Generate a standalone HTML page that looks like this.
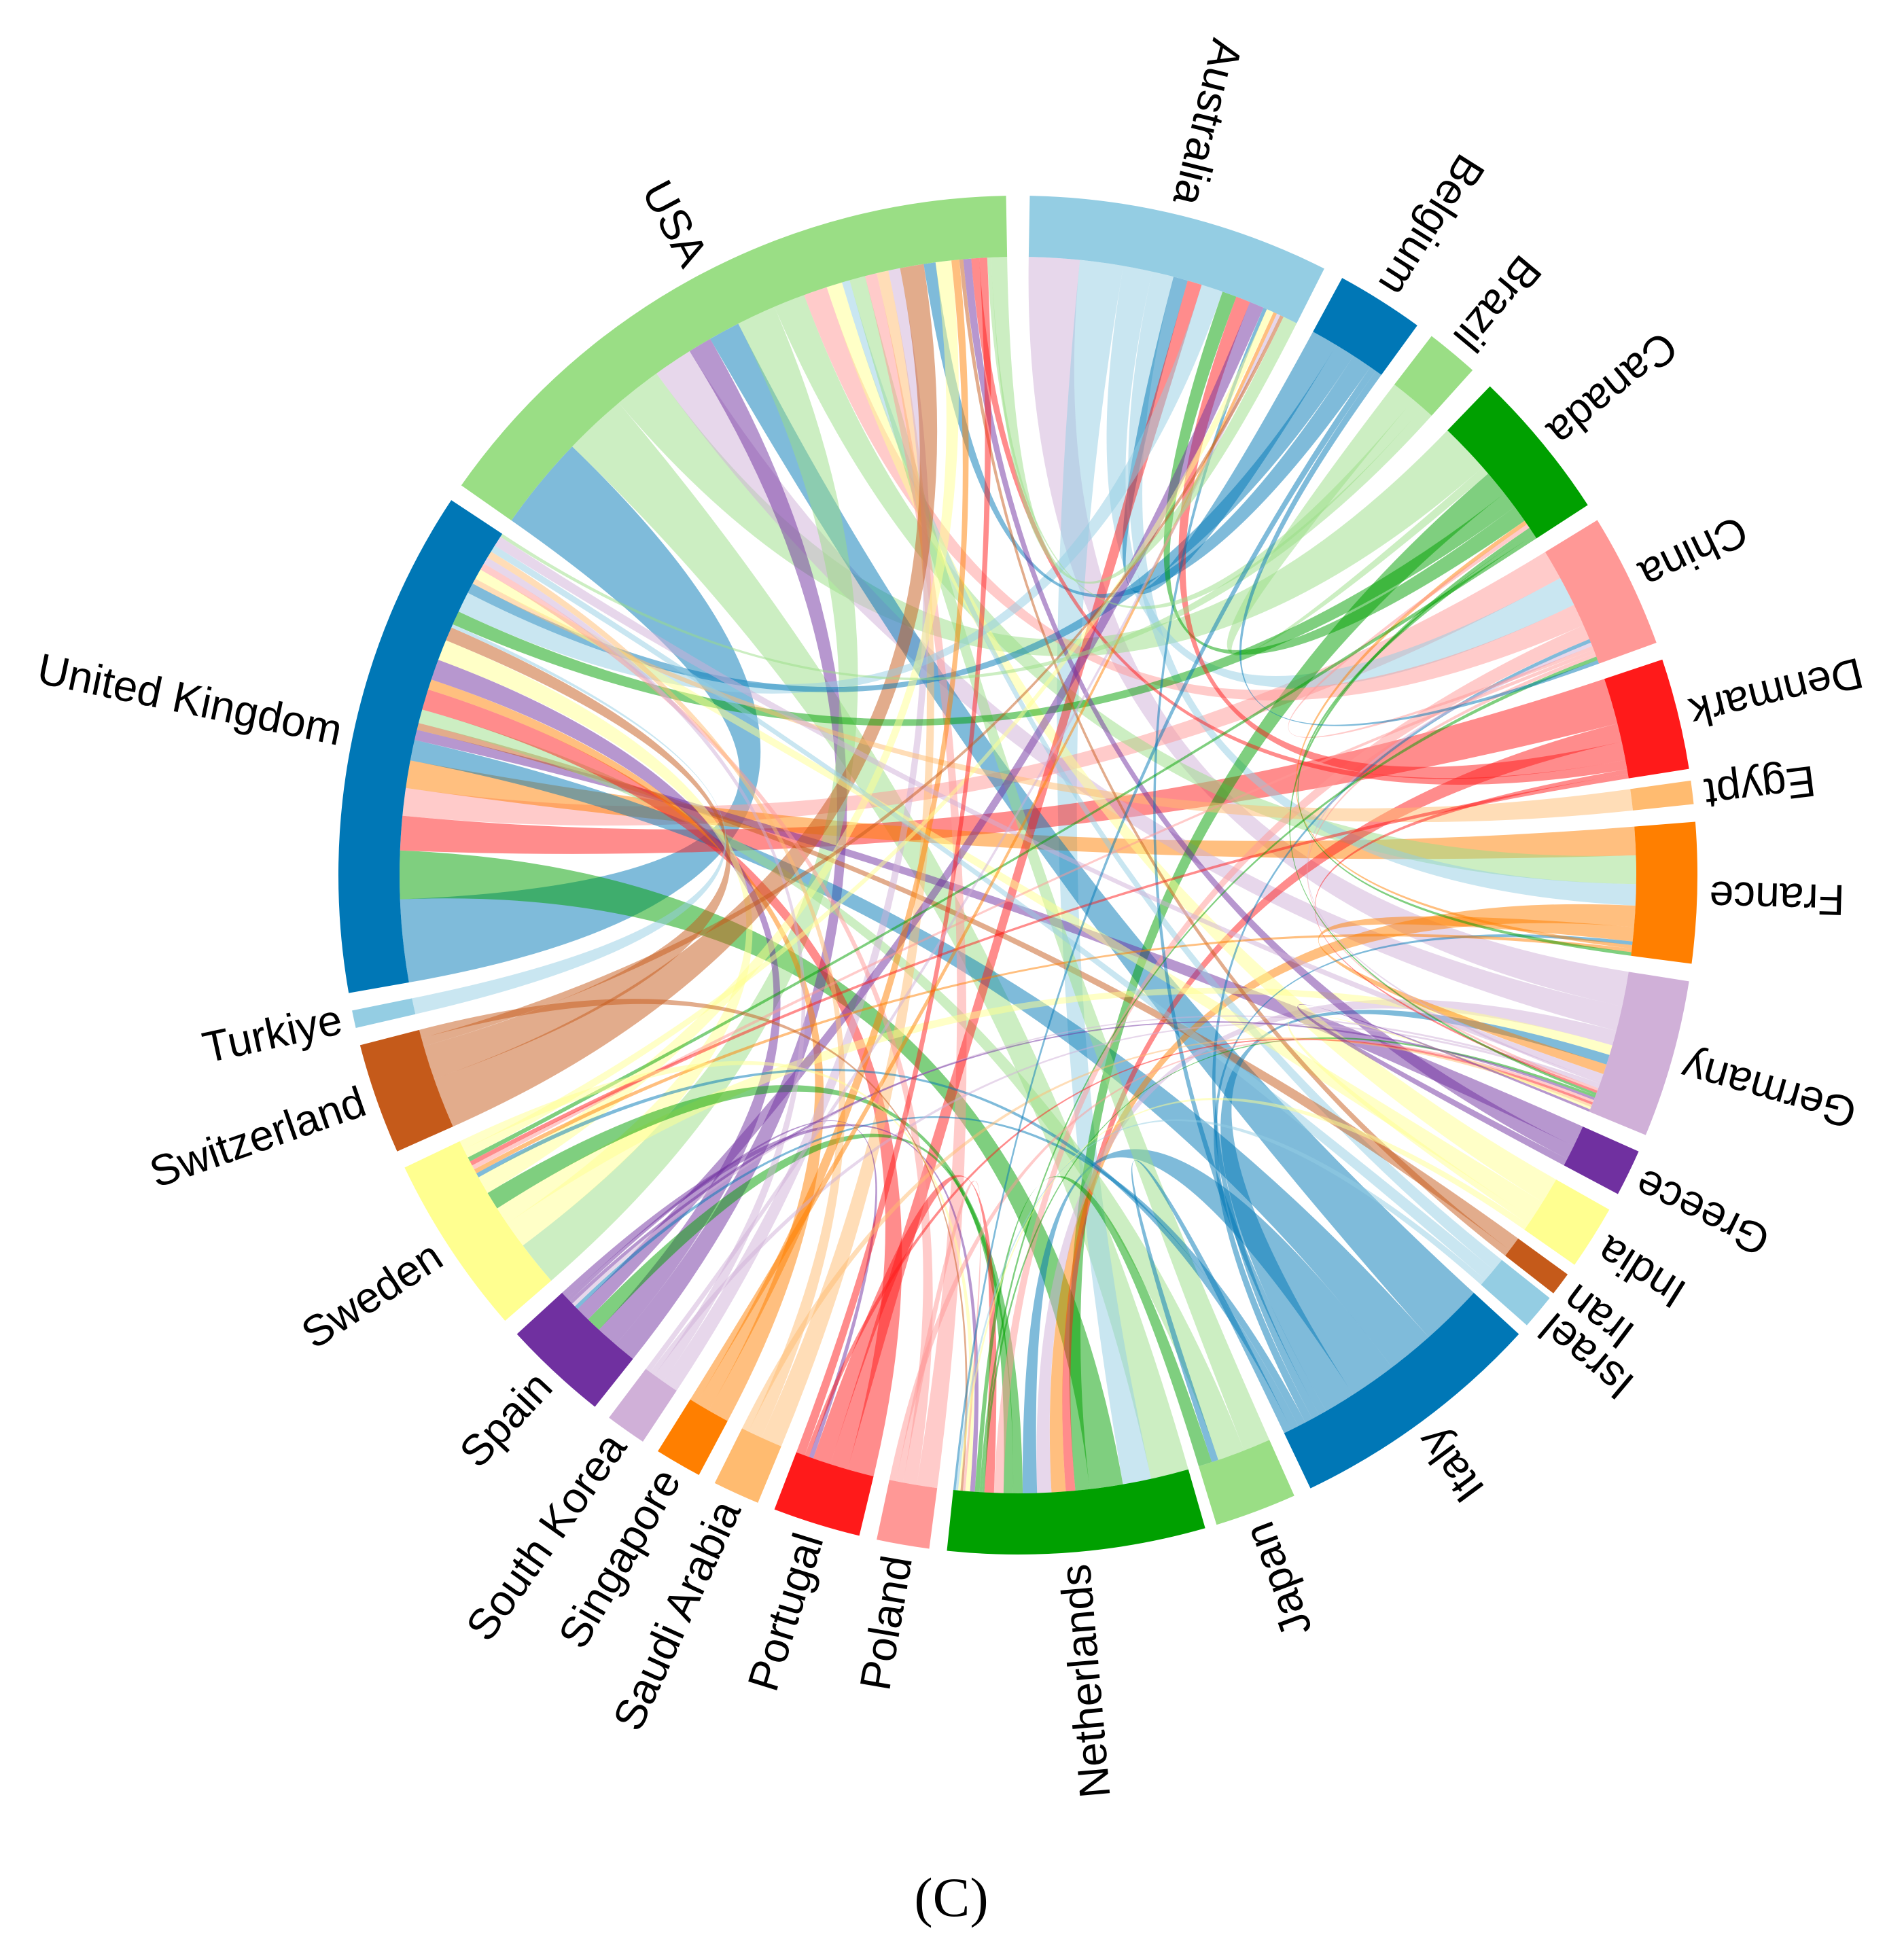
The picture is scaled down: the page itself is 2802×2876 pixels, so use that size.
<!DOCTYPE html>
<html><head><meta charset="utf-8"><style>
html,body{margin:0;padding:0;background:#fff;}
svg{display:block;}
</style></head><body>
<svg id="chart" width="2802" height="2876" viewBox="0 0 2802 2876" xmlns="http://www.w3.org/2000/svg">
<g id="ribbons"></g>
<g id="arcs"></g>
<g id="labels"></g>
<text x="1400" y="2820" text-anchor="middle" font-family="Liberation Serif, serif" font-size="82" fill="#000">(C)</text>
</svg>
<script>
const groupNames = ["USA","Australia","Belgium","Brazil","Canada","China","Denmark","Egypt","France","Germany","Greece","India","Iran","Israel","Italy","Japan","Netherlands","Poland","Portugal","Saudi Arabia","Singapore","South Korea","Spain","Sweden","Switzerland","Turkiye","United Kingdom"];
const groupStart = [305,1,28.5,37.5,44,58.5,71.5,82,85.5,99,114,119.5,126,128.5,132.5,156,164,187.5,193.5,202.5,208,213.5,218.5,229,246,257,260];
const groupEnd = [359,26.8,36,42,57,70,81,84,97.5,112.5,118,125,128,131.5,154.5,163,186,192,201,206.5,212,217,227.5,244.5,255.5,258.5,303.5];
const groupColors = ["#9ade85","#94cde3","#0077b6","#9ade85","#00a000","#ff9896","#ff1a1a","#ffbb70","#ff7f00","#d0b0d8","#7030a0","#ffff90","#c55a1a","#94cde3","#0077b6","#9ade85","#00a000","#ff9896","#ff1a1a","#ffbb70","#ff7f00","#d0b0d8","#7030a0","#ffff90","#c55a1a","#94cde3","#0077b6"];
const linkSource = [26,9,0,1,16,6,0,5,8,9,22,14,14,0,0,1,1,2,3,4,5,6,8,9,10,11,13,12,14,15,15,17,18,18,19,20,21,22,23,23,24,24,25,16,16,14,8,5,4,1,2,2,4,6,7,11,17,18,22,23,21,19,20,12,13,10,
14,14,14,14,14,14,9,9,9,9,8,8,5,5,5,6,6,6,4,4,4,16,16,16,22,22,22,23,23,17,17,18,18,19,20,21,24,24,11,11,10,13,3,3,2,2,0];
const linkTarget = [0,1,16,16,26,26,4,26,26,0,0,0,26,23,8,5,8,1,4,16,0,16,16,16,26,0,0,26,16,0,26,0,26,1,0,26,0,26,26,9,0,26,26,23,22,9,9,16,26,26,26,0,1,1,26,26,26,16,1,0,26,26,0,0,26,0,
1,5,8,22,23,15,26,5,22,21,4,23,4,23,9,0,9,23,9,8,23,9,5,15,9,18,16,1,16,16,9,9,0,9,1,1,1,16,9,16,9,16,0,26,16,5,1];
const linkValue = [12,7,8,6,7,5,6,4,4,5,3,4,3,5,4,4,3,2,1,3,3,2,3,3,1.5,2,1,1,3,2,2,1.5,3,2,1.5,1.5,1.5,3,3,2,3,2,0.5,2,2,2,2,2,2,3,1.5,1.5,2,2,0.8,1.5,1,2,2,2,1,1,1,0.5,1,1,
0.5,0.5,0.5,0.5,0.5,0.5,1.5,0.5,0.5,0.5,0.5,0.5,0.5,0.5,0.5,1,0.5,0.5,0.5,0.5,0.5,0.5,0.5,1,0.5,0.5,1,1,1,0.5,0.5,0.5,1,0.5,0.5,0.5,0.5,0.5,0.5,0.5,0.5,0.5,0.5,0.5,0.5,0.5,2];

const cx=1498, cy=1288, ri=910, ro=1000;
const NS="http://www.w3.org/2000/svg";
const rad=a=>(a-90)*Math.PI/180;
const pt=(a,r)=>[cx+r*Math.cos(rad(a)), cy+r*Math.sin(rad(a))];
const span=i=>{let s=groupStart[i],e=groupEnd[i]; if(e<s)e+=360; return [s,e];};

const arcsG=document.getElementById('arcs');
groupNames.forEach((n,i)=>{
  const [s,e]=span(i);
  const a=pt(s,ro),b=pt(e,ro),c=pt(e,ri),d=pt(s,ri);
  const lg=(e-s)>180?1:0;
  const p=document.createElementNS(NS,'path');
  p.setAttribute('d',`M${a}A${ro},${ro} 0 ${lg} 1 ${b}L${c}A${ri},${ri} 0 ${lg} 0 ${d}Z`);
  p.setAttribute('fill',groupColors[i]);
  
  
  arcsG.appendChild(p);
});

const totals=groupNames.map(()=>0);
linkSource.forEach((s,k)=>{totals[s]+=linkValue[k];totals[linkTarget[k]]+=linkValue[k];});
const cursor=groupNames.map((n,i)=>span(i)[0]);
const scale=groupNames.map((n,i)=>{const [s,e]=span(i);return (e-s)/(totals[i]||1);});
const ribG=document.getElementById('ribbons');
linkSource.forEach((s,k)=>{
  const t=linkTarget[k], v=linkValue[k];
  const s0=cursor[s], s1=s0+v*scale[s]; cursor[s]=s1;
  const t0=cursor[t], t1=t0+v*scale[t]; cursor[t]=t1;
  const A=pt(s0,ri),B=pt(s1,ri),C=pt(t0,ri),D=pt(t1,ri);
  const p=document.createElementNS(NS,'path');
  p.setAttribute('d',`M${A}A${ri},${ri} 0 0 1 ${B}Q${cx},${cy} ${C}A${ri},${ri} 0 0 1 ${D}Q${cx},${cy} ${A}Z`);
  p.setAttribute('fill',groupColors[s]);
  p.setAttribute('fill-opacity','0.5');
  
  
  ribG.appendChild(p);
});

const labG=document.getElementById('labels');
groupNames.forEach((n,i)=>{
  const [s,e]=span(i); const m=(s+e)/2;
  const t=document.createElementNS(NS,'text');
  t.setAttribute('x',cx-(ro+18));
  t.setAttribute('y',cy);
  t.setAttribute('text-anchor','end');
  t.setAttribute('dominant-baseline','middle');
  t.setAttribute('font-family','Liberation Sans, sans-serif');
  t.setAttribute('font-size','64');
  t.setAttribute('fill','#000');
  t.setAttribute('transform',`rotate(${m+90} ${cx} ${cy})`);
  t.textContent=n;
  
  
  labG.appendChild(t);
});
</script>
</body></html>
